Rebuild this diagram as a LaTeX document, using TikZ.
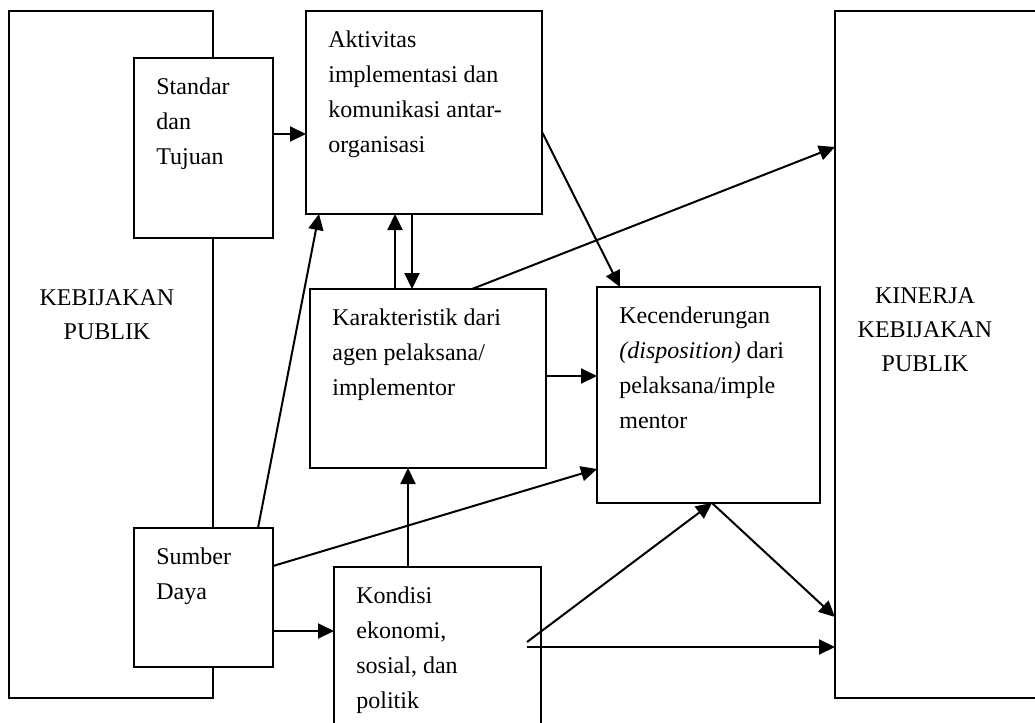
\documentclass[tikz,border=0pt]{standalone}
\usepackage{fontspec}
\setmainfont{Liberation Serif}
\usetikzlibrary{arrows.meta}

\begin{document}
\begin{tikzpicture}[x=0.5pt, y=-0.5pt,
  kotak/.style={draw, fill=white, line width=0.8pt, inner sep=0pt,
    outer sep=0pt, anchor=north west},
  isi/.style={anchor=base west, align=left, inner sep=0pt,
    font=\fontsize{12}{17.5}\selectfont, xshift=11pt, yshift={-0.5pt-17.5pt*#1}},
  judul/.style={anchor=base, align=center, inner sep=0pt,
    font=\fontsize{12}{17}\selectfont},
  arr/.style={-{Triangle[length=8pt, width=7.5pt]}, line width=1pt}
]
\useasboundingbox (0,0) rectangle (1035,723);
\clip (0,0) rectangle (1035,723);
% Kotak besar kiri dan kanan
\node[kotak, minimum width=102pt, minimum height=343.5pt,
  label={[judul, xshift=49pt, yshift=-164pt]north west:KEBIJAKAN\\PUBLIK}]
  (kebijakan) at (9,11) {};
\node[kotak, minimum width=110pt, minimum height=343.5pt,
  label={[judul, xshift=45pt, yshift=-180pt]north west:KINERJA\\KEBIJAKAN\\PUBLIK}]
  (kinerja) at (835,11) {};
% Variabel
\node[kotak, minimum width=69.5pt, minimum height=90pt,
  label={[isi=3]north west:Standar\\dan\\Tujuan}] (standar) at (134,58) {};
\node[kotak, minimum width=69.5pt, minimum height=69.5pt,
  label={[isi=2]north west:Sumber\\Daya}] (sumber) at (134,528) {};
\node[kotak, minimum width=118pt, minimum height=101.5pt,
  label={[isi=4]north west:Aktivitas\\implementasi dan\\komunikasi antar-\\organisasi}]
  (aktivitas) at (306,11) {};
\node[kotak, minimum width=118pt, minimum height=89.5pt,
  label={[isi=3]north west:Karakteristik dari\\agen pelaksana/\\implementor}]
  (karakteristik) at (310,289) {};
\node[kotak, minimum width=111.5pt, minimum height=108pt,
  label={[isi=4]north west:Kecenderungan\\\textit{(disposition)} dari\\pelaksana/imple\\mentor}]
  (kecenderungan) at (597,287) {};
\node[kotak, minimum width=103.5pt, minimum height=90pt,
  label={[isi=4]north west:Kondisi\\ekonomi,\\sosial, dan\\politik}]
  (kondisi) at (334,567) {};
\coordinate (kd1) at (527,642);
\coordinate (kd2) at (527,647);
% Panah
\draw[arr] (standar.east |- 0,134) -- (aktivitas.west |- 0,134);
\draw[arr] (aktivitas.east |- 0,132) -- (kecenderungan.north -| 620,0);
\draw[arr] (karakteristik.north -| 472,0) -- (kinerja.west |- 0,147);
\draw[arr] (karakteristik.north -| 395,0) -- (aktivitas.south -| 395,0);
\draw[arr] (aktivitas.south -| 412,0) -- (karakteristik.north -| 412,0);
\draw[arr] (sumber.north -| 258,0) -- (aktivitas.south -| 319,0);
\draw[arr] (karakteristik.east |- 0,376) -- (kecenderungan.west |- 0,376);
\draw[arr] (sumber.east |- 0,566) -- (kecenderungan.west |- 0,469);
\draw[arr] (sumber.east |- 0,631) -- (kondisi.west |- 0,631);
\draw[arr] (kondisi.north -| 408,0) -- (karakteristik.south -| 408,0);
\draw[arr] (kd1) -- (kecenderungan.south -| 712,0);
\draw[arr] (kecenderungan.south -| 712,0) -- (kinerja.west |- 0,617);
\draw[arr] (kd2) -- (kinerja.west |- 0,647);
\end{tikzpicture}
\end{document}
